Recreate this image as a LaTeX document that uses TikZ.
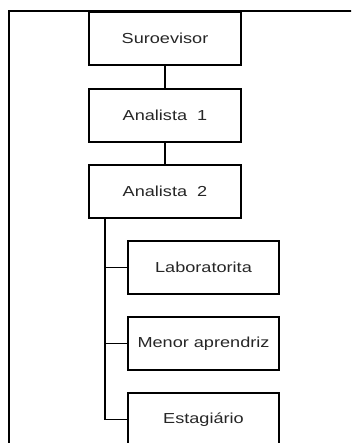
\documentclass[tikz,border=0pt]{standalone}
\usepackage{fontspec}
\setmainfont{Liberation Sans}[FakeStretch=1.25]
\begin{document}
\begin{tikzpicture}[x=1pt,y=-1pt,
  line width=1.8pt,
  orgbox/.style={draw, rectangle, minimum width=152pt, minimum height=53pt,
    inner sep=0pt, font=\fontsize{14.5}{16}\selectfont, text=black!85}]
\useasboundingbox (0,0) rectangle (351,443);
\clip (0,0) rectangle (351,443);
% outer frame
\coordinate (frameR) at (352,11);
\coordinate (frameC) at (9,11);
\coordinate (frameB) at (9,444);
\draw (frameR) -- (frameC) -- (frameB);
% hierarchy boxes
\node[orgbox] (sup) at (165,38.5) {Suroevisor};
\node[orgbox] (an1) at (165,115.5) {Analista\ \ 1};
\node[orgbox] (an2) at (165,191.5) {Analista\ \ 2};
\node[orgbox, minimum width=151pt] (lab) at (203.5,267.5) {Laboratorita};
\node[orgbox, minimum width=151pt] (men) at (203.5,343.5) {Menor aprendriz};
\node[orgbox, minimum width=151pt] (est) at (203.5,419.5) {Estagiário};
% connectors
\draw (sup) -- (an1);
\draw (an1) -- (an2);
\coordinate (trunk) at (105,218);
\draw (trunk) |- (est.west);
\draw (trunk |- lab.west) -- (lab.west);
\draw (trunk |- men.west) -- (men.west);
\end{tikzpicture}
\end{document}
